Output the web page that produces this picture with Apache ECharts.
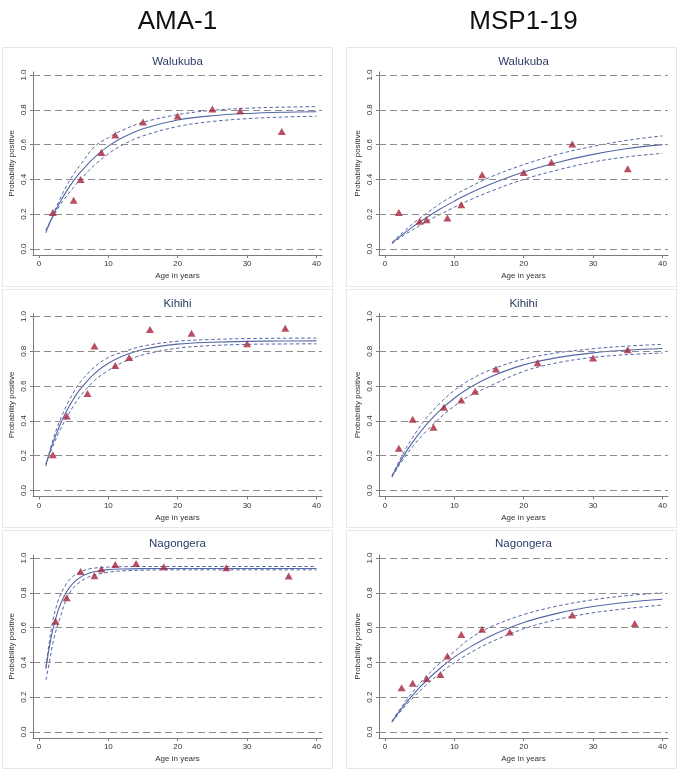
<!DOCTYPE html>
<html><head><meta charset="utf-8">
<script src="https://cdn.jsdelivr.net/npm/echarts@6/dist/echarts.min.js"></script>
<style>html,body{margin:0;padding:0;background:#fff}#c{width:677px;height:770px}</style>
</head><body><div id="c"></div>
<script>
// ---------- text / ticks ----------
const columnTitles = ['AMA-1', 'MSP1-19'];
const siteNames = ['Walukuba', 'Kihihi', 'Nagongera'];
const xTicks = [0, 10, 20, 30, 40];
const yTicks = [0, 0.2, 0.4, 0.6, 0.8, 1.0];
const xAxisTitle = 'Age in years';
const yAxisTitle = 'Probability positive';

// ---------- fitted-curve ages ----------
const fitAge = [1, 2, 3, 4, 5, 6, 8, 10, 12, 15, 20, 25, 30, 35, 40];
const fitAgeSteep = [1, 1.5, 2, 2.5, 3, 4, 5, 6, 7, 8, 10, 12, 15, 20, 30, 40];

// ---------- AMA-1 Walukuba ----------
const amaWalukubaAge = [2, 5, 6, 9, 11, 15, 20, 25, 29, 35];
const amaWalukubaObs = [0.21, 0.28, 0.40, 0.555, 0.655, 0.73, 0.765, 0.805, 0.795, 0.675];
const amaWalukubaFit = [0.101, 0.190, 0.267, 0.334, 0.393, 0.443, 0.527, 0.591, 0.639, 0.691, 0.741, 0.766, 0.779, 0.786, 0.789];
const amaWalukubaUpper = [0.092, 0.195, 0.285, 0.365, 0.43, 0.485, 0.588, 0.64, 0.682, 0.728, 0.772, 0.797, 0.809, 0.815, 0.818];
const amaWalukubaLower = [0.11, 0.185, 0.25, 0.305, 0.355, 0.40, 0.482, 0.547, 0.597, 0.65, 0.704, 0.733, 0.749, 0.758, 0.763];

// ---------- MSP1-19 Walukuba ----------
const mspWalukubaAge = [2, 5, 6, 9, 11, 14, 20, 24, 27, 35];
const mspWalukubaObs = [0.21, 0.16, 0.168, 0.178, 0.254, 0.426, 0.44, 0.499, 0.604, 0.461];
const mspWalukubaFit = [0.034, 0.067, 0.097, 0.127, 0.155, 0.181, 0.231, 0.275, 0.316, 0.369, 0.442, 0.499, 0.544, 0.578, 0.600];
const mspWalukubaUpper = [0.038, 0.075, 0.11, 0.145, 0.176, 0.205, 0.262, 0.31, 0.352, 0.41, 0.485, 0.545, 0.59, 0.625, 0.65];
const mspWalukubaLower = [0.03, 0.06, 0.086, 0.11, 0.135, 0.158, 0.20, 0.24, 0.278, 0.328, 0.40, 0.455, 0.50, 0.53, 0.55];

// ---------- AMA-1 Kihihi ----------
const amaKihihiAge = [2, 4, 7, 8, 11, 13, 16, 22, 30, 35.5];
const amaKihihiObs = [0.206, 0.428, 0.558, 0.83, 0.719, 0.765, 0.925, 0.904, 0.843, 0.933];
const amaKihihiFit = [0.149, 0.272, 0.374, 0.458, 0.527, 0.585, 0.672, 0.731, 0.772, 0.810, 0.841, 0.852, 0.857, 0.859, 0.860];
const amaKihihiUpper = [0.14, 0.29, 0.40, 0.49, 0.565, 0.625, 0.71, 0.765, 0.795, 0.83, 0.858, 0.868, 0.873, 0.875, 0.876];
const amaKihihiLower = [0.155, 0.255, 0.345, 0.42, 0.488, 0.545, 0.632, 0.69, 0.735, 0.78, 0.818, 0.833, 0.84, 0.842, 0.843];

// ---------- MSP1-19 Kihihi ----------
const mspKihihiAge = [2, 4, 7, 8.5, 11, 13, 16, 22, 30, 35];
const mspKihihiObs = [0.243, 0.409, 0.363, 0.478, 0.52, 0.57, 0.698, 0.734, 0.761, 0.809];
const mspKihihiFit = [0.080, 0.153, 0.219, 0.278, 0.331, 0.380, 0.463, 0.530, 0.586, 0.650, 0.722, 0.765, 0.791, 0.807, 0.816];
const mspKihihiUpper = [0.085, 0.165, 0.24, 0.305, 0.365, 0.418, 0.505, 0.575, 0.63, 0.69, 0.755, 0.792, 0.815, 0.83, 0.84];
const mspKihihiLower = [0.075, 0.142, 0.2, 0.252, 0.3, 0.343, 0.42, 0.485, 0.54, 0.598, 0.685, 0.735, 0.765, 0.781, 0.79];

// ---------- AMA-1 Nagongera ----------
const amaNagongeraAge = [2.4, 4, 6, 8, 9, 11, 14, 18, 27, 36];
const amaNagongeraObs = [0.636, 0.772, 0.923, 0.898, 0.937, 0.962, 0.969, 0.95, 0.944, 0.897];
const amaNagongeraFit = [0.364, 0.489, 0.588, 0.664, 0.724, 0.807, 0.859, 0.890, 0.910, 0.921, 0.933, 0.937, 0.939, 0.940, 0.940, 0.940];
const amaNagongeraUpper = [0.37, 0.52, 0.64, 0.72, 0.78, 0.855, 0.897, 0.92, 0.935, 0.942, 0.948, 0.95, 0.951, 0.951, 0.951, 0.951];
const amaNagongeraLower = [0.30, 0.40, 0.51, 0.59, 0.65, 0.77, 0.83, 0.865, 0.888, 0.902, 0.918, 0.926, 0.930, 0.932, 0.932, 0.932];

// ---------- MSP1-19 Nagongera ----------
const mspNagongeraAge = [2.4, 4, 6, 8, 9, 11, 14, 18, 27, 36];
const mspNagongeraObs = [0.255, 0.28, 0.307, 0.33, 0.437, 0.561, 0.59, 0.575, 0.672, 0.623];
const mspNagongeraFit = [0.059, 0.114, 0.165, 0.212, 0.256, 0.296, 0.368, 0.430, 0.482, 0.548, 0.629, 0.683, 0.721, 0.746, 0.763];
const mspNagongeraUpper = [0.062, 0.122, 0.178, 0.23, 0.278, 0.322, 0.398, 0.462, 0.53, 0.60, 0.675, 0.725, 0.76, 0.784, 0.80];
const mspNagongeraLower = [0.055, 0.106, 0.153, 0.195, 0.235, 0.272, 0.34, 0.398, 0.448, 0.512, 0.593, 0.648, 0.685, 0.71, 0.73];

// ---------- panels (row, col) ----------
const panels = [
  {row: 0, col: 0, site: siteNames[0], age: amaWalukubaAge, obs: amaWalukubaObs, fx: fitAge, fit: amaWalukubaFit, up: amaWalukubaUpper, lo: amaWalukubaLower},
  {row: 0, col: 1, site: siteNames[0], age: mspWalukubaAge, obs: mspWalukubaObs, fx: fitAge, fit: mspWalukubaFit, up: mspWalukubaUpper, lo: mspWalukubaLower},
  {row: 1, col: 0, site: siteNames[1], age: amaKihihiAge, obs: amaKihihiObs, fx: fitAge, fit: amaKihihiFit, up: amaKihihiUpper, lo: amaKihihiLower},
  {row: 1, col: 1, site: siteNames[1], age: mspKihihiAge, obs: mspKihihiObs, fx: fitAge, fit: mspKihihiFit, up: mspKihihiUpper, lo: mspKihihiLower},
  {row: 2, col: 0, site: siteNames[2], age: amaNagongeraAge, obs: amaNagongeraObs, fx: fitAgeSteep, fit: amaNagongeraFit, up: amaNagongeraUpper, lo: amaNagongeraLower},
  {row: 2, col: 1, site: siteNames[2], age: mspNagongeraAge, obs: mspNagongeraObs, fx: fitAge, fit: mspNagongeraFit, up: mspNagongeraUpper, lo: mspNagongeraLower}
];

// ---------- layout / style ----------
const FONT = '"Liberation Sans", Arial, Helvetica, sans-serif';
const colLeft = [33, 379];
const gridW = 289;
const rowTop = [72, 313.5, 555];
const gridH = 183;
const frameX = [[2, 332], [346, 676]];
const frameY = [[47, 286], [289, 527], [530, 768]];
const titleY = [62, 303.5, 544];
const lineColor = '#5467a6';
const markColor = '#a8233b';
const gridLineColor = '#8c8c8c';
const axisColor = '#7a7a7a';
const textColor = '#333333';
const titleColor = '#2b3a63';

const pairs = (xs, ys) => xs.map((x, i) => [x, ys[i]]);

const grids = [], xAxes = [], yAxes = [], series = [], graphics = [];

// frames
for (let r = 0; r < 3; r++) for (let c = 0; c < 2; c++) {
  graphics.push({type: 'rect', silent: true, z: -10,
    shape: {x: frameX[c][0] + 0.5, y: frameY[r][0] + 0.5, width: frameX[c][1] - frameX[c][0], height: frameY[r][1] - frameY[r][0]},
    style: {fill: '#ffffff', stroke: '#e4e8ec', lineWidth: 1}});
}
// column titles
columnTitles.forEach((t, c) => {
  graphics.push({type: 'text', silent: true,
    style: {text: t, x: colLeft[c] + gridW / 2, y: 22, font: '26px ' + FONT, fill: '#111',
      align: 'center', verticalAlign: 'middle', textAlign: 'center', textVerticalAlign: 'middle'}});
});

panels.forEach((p, i) => {
  grids.push({left: colLeft[p.col], top: rowTop[p.row], width: gridW, height: gridH, containLabel: false});
  graphics.push({type: 'text', silent: true,
    style: {text: p.site, x: colLeft[p.col] + gridW / 2, y: titleY[p.row], font: '11.5px ' + FONT, fill: titleColor,
      align: 'center', verticalAlign: 'middle', textAlign: 'center', textVerticalAlign: 'middle'}});
  xAxes.push({
    type: 'value', gridIndex: i, min: -0.86, max: 40.8,
    name: xAxisTitle, nameLocation: 'middle', nameGap: 17,
    nameTextStyle: {fontSize: 8, color: textColor, fontFamily: FONT},
    axisLine: {show: true, onZero: false, lineStyle: {color: axisColor, width: 1}},
    axisTick: {show: true, length: 3, customValues: xTicks, lineStyle: {color: axisColor}},
    axisLabel: {customValues: xTicks, fontSize: 8, color: textColor, fontFamily: FONT, margin: 5},
    splitLine: {show: false}
  });
  yAxes.push({
    type: 'value', gridIndex: i, min: -0.0345, max: 1.0172,
    name: yAxisTitle, nameLocation: 'middle', nameGap: 17,
    nameTextStyle: {fontSize: 8, color: textColor, fontFamily: FONT},
    axisLine: {show: true, onZero: false, lineStyle: {color: axisColor, width: 1}},
    axisTick: {show: true, length: 3, customValues: yTicks, lineStyle: {color: axisColor}},
    axisLabel: {customValues: yTicks, rotate: 90, fontSize: 8, color: textColor, fontFamily: FONT, margin: 5,
      formatter: v => Number(v).toFixed(1)},
    splitLine: {show: false}
  });
  // horizontal dashed reference lines
  series.push({
    type: 'line', xAxisIndex: i, yAxisIndex: i, data: [], z: 1, silent: true,
    markLine: {silent: true, symbol: 'none', label: {show: false}, animation: false,
      lineStyle: {color: gridLineColor, type: [7, 4], width: 1},
      data: yTicks.map(v => ({yAxis: v}))}
  });
  const lineBase = {type: 'line', xAxisIndex: i, yAxisIndex: i, showSymbol: false, symbol: 'none',
    smooth: 0.35, silent: true, z: 3};
  series.push(Object.assign({}, lineBase, {data: pairs(p.fx, p.up), lineStyle: {color: lineColor, width: 1, type: [3.5, 2.5]}}));
  series.push(Object.assign({}, lineBase, {data: pairs(p.fx, p.lo), lineStyle: {color: lineColor, width: 1, type: [3.5, 2.5]}}));
  series.push(Object.assign({}, lineBase, {data: pairs(p.fx, p.fit), lineStyle: {color: lineColor, width: 1.1}}));
  series.push({type: 'scatter', xAxisIndex: i, yAxisIndex: i, data: pairs(p.age, p.obs), symbol: 'triangle',
    symbolSize: [8, 7], itemStyle: {color: markColor}, z: 5, silent: true});
});

const chart = echarts.init(document.getElementById('c'), null, {renderer: 'canvas'});
chart.setOption({
  animation: false,
  backgroundColor: '#ffffff',
  textStyle: {fontFamily: FONT},
  grid: grids, xAxis: xAxes, yAxis: yAxes, series: series, graphic: graphics
});
</script></body></html>
